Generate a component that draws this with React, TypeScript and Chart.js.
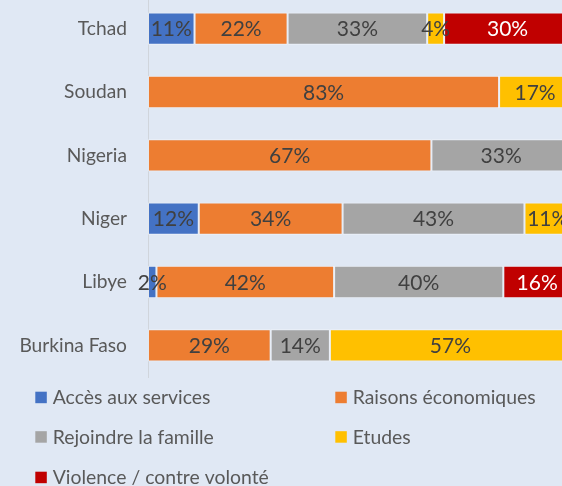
import React, { useEffect, useRef } from "react";
import { Chart, registerables } from "chart.js";

Chart.register(...registerables);

// ---- Data ----
const countries = ["Tchad", "Soudan", "Nigeria", "Niger", "Libye", "Burkina Faso"];
const seriesNames = [
  "Accès aux services",
  "Raisons économiques",
  "Rejoindre la famille",
  "Etudes",
  "Violence / contre volonté",
];
const accesServices = [11, 0, 0, 12, 2, 0];
const raisonsEconomiques = [22, 83, 67, 34, 42, 29];
const rejoindreFamille = [33, 0, 33, 43, 40, 14];
const etudes = [4, 17, 0, 11, 0, 57];
const violence = [30, 0, 0, 0, 16, 0];

const seriesValues = [accesServices, raisonsEconomiques, rejoindreFamille, etudes, violence];
const seriesColors = ["#4472C4", "#ED7D31", "#A5A5A5", "#FFC000", "#C00000"];
const labelColors = ["#404040", "#404040", "#404040", "#404040", "#FFFFFF"];

const FONT = "Lato, 'Open Sans', sans-serif";
const BG = "#E0E8F4";
const CANVAS_TOP = -3;

const dataLabelPlugin = {
  id: "segLabels",
  afterDatasetsDraw(chart: any) {
    const ctx = chart.ctx;
    ctx.save();
    ctx.font = `21px ${FONT}`;
    ctx.textAlign = "center";
    ctx.textBaseline = "middle";
    chart.data.datasets.forEach((ds: any, di: number) => {
      const meta = chart.getDatasetMeta(di);
      meta.data.forEach((el: any, i: number) => {
        const v = ds.data[i];
        if (!v) return;
        const p = el.getCenterPoint();
        ctx.fillStyle = labelColors[di];
        ctx.fillText(`${v}%`, p.x, p.y + 1);
      });
    });
    ctx.restore();
  },
};

const legendPlugin = {
  id: "gridLegend",
  afterDraw(chart: any) {
    const ctx = chart.ctx;
    ctx.save();
    ctx.font = `19.4px ${FONT}`;
    ctx.textBaseline = "middle";
    ctx.textAlign = "left";
    const colX = [35.3, 335.3];
    const rowY = [397.5, 437, 477.5];
    chart.data.datasets.forEach((ds: any, i: number) => {
      const col = i % 2;
      const row = Math.floor(i / 2);
      const x = colX[col];
      const y = rowY[row] - CANVAS_TOP;
      ctx.fillStyle = ds.backgroundColor;
      ctx.fillRect(x, y - 5.8, 11.5, 11.5);
      ctx.fillStyle = "#595959";
      ctx.fillText(ds.label, x + 17.4, y + 0.5);
    });
    ctx.restore();
  },
};

export default function App() {
  const ref = useRef<HTMLCanvasElement | null>(null);

  useEffect(() => {
    document.body.style.margin = "0";
    document.body.style.overflow = "hidden";
    const canvas = ref.current;
    if (!canvas) return;
    const chart = new Chart(canvas, {
      type: "bar",
      data: {
        labels: countries,
        datasets: seriesNames.map((name, i) => ({
          label: name,
          data: seriesValues[i],
          backgroundColor: seriesColors[i],
          borderColor: "rgba(255,255,255,0.45)",
          borderWidth: 1,
          borderSkipped: false,
          barPercentage: 0.51,
          categoryPercentage: 1,
        })),
      },
      options: {
        indexAxis: "y",
        responsive: false,
        animation: false,
        devicePixelRatio: 1,
        layout: { padding: { top: 0, left: 0, right: 0, bottom: 112 } },
        plugins: {
          legend: { display: false },
          tooltip: { enabled: false },
        },
        scales: {
          x: {
            display: false,
            stacked: true,
            min: 0,
            max: 100,
          },
          y: {
            stacked: true,
            grid: {
              display: false,
              drawTicks: true,
              tickLength: 21,
              tickColor: "rgba(0,0,0,0)",
            },
            border: { display: true, color: "#D0D5DC", width: 1 },
            ticks: {
              padding: 0,
              color: "#595959",
              font: { family: FONT, size: 19.2 },
            },
            afterFit(scale: any) {
              scale.width = 148;
              scale.paddingTop = 0;
              scale.paddingBottom = 0;
            },
          },
        },
      },
      plugins: [dataLabelPlugin, legendPlugin],
    });
    return () => chart.destroy();
  }, []);

  return (
    <div
      style={{
        position: "fixed",
        left: 0,
        top: 0,
        width: 562,
        height: 486,
        overflow: "hidden",
        background: BG,
      }}
    >
      <canvas
        ref={ref}
        width={571}
        height={492}
        style={{ position: "absolute", left: 0, top: CANVAS_TOP, display: "block" }}
      />
    </div>
  );
}
